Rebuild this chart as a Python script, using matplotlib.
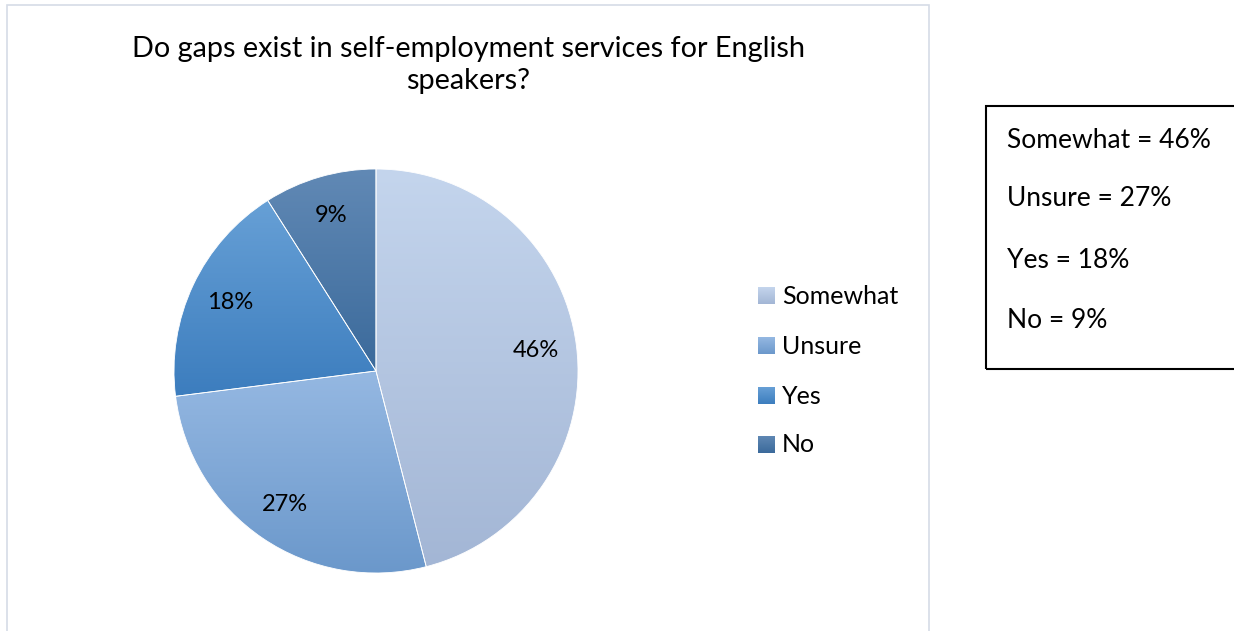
import numpy as np
import matplotlib.pyplot as plt
from matplotlib.patches import Rectangle
from matplotlib.colors import LinearSegmentedColormap

# Survey answers
labels = ['Somewhat', 'Unsure', 'Yes', 'No']
shares = [46, 27, 18, 9]
# top / bottom colour of each slice's vertical gradient
top_colors = ['#C4D5ED', '#95B8E2', '#67A0D6', '#6189B5']
bottom_colors = ['#A3B6D5', '#6B98CB', '#3C7DBE', '#3B6A9B']

title = 'Do gaps exist in self-employment services for English\nspeakers?'

plt.rcParams['font.family'] = ['Lato', 'DejaVu Sans']

W, H = 1234, 631
fig = plt.figure(figsize=(W / 100, H / 100), dpi=100)

# chart area frame (bottom edge runs off the image)
fig.patches.append(Rectangle((7 / W, -0.05), 922 / W, 1.05 - 5 / H,
                             transform=fig.transFigure, fill=False,
                             edgecolor='#D6DCE6', linewidth=1.2))

fig.text(468 / W, 1 - 65 / H, title, ha='center', va='center',
         fontsize=20.8, linespacing=1.3)

# pie axes: centre (376, 371), radius 202 px
cx, cy, r = 376, 371, 202
ax = fig.add_axes([(cx - r) / W, (H - cy - r) / H, 2 * r / W, 2 * r / H])
wedges, texts, autotexts = ax.pie(shares, startangle=90, counterclock=False,
                                  autopct='%.0f%%', pctdistance=0.8,
                                  wedgeprops=dict(linewidth=0.6, edgecolor='white'),
                                  textprops=dict(fontsize=17, color='black'))
ax.set_xlim(-1, 1)
ax.set_ylim(-1, 1)
ax.set_aspect('equal')
ax.axis('off')

grad = np.linspace(0, 1, 256).reshape(-1, 1)
for w, c0, c1 in zip(wedges, top_colors, bottom_colors):
    w.set_facecolor('none')
    bb = w.get_path().get_extents(w.get_patch_transform())
    cmap = LinearSegmentedColormap.from_list('g', [c0, c1])
    im = ax.imshow(grad, cmap=cmap, aspect='auto', origin='upper',
                   extent=[bb.x0, bb.x1, bb.y0, bb.y1], zorder=0.5)
    im.set_clip_path(w)
ax.set_xlim(-1, 1)
ax.set_ylim(-1, 1)

# legend
leg_y = [296, 346, 396, 445]
for lab, c0, c1, y in zip(labels, top_colors, bottom_colors, leg_y):
    lax = fig.add_axes([758 / W, 1 - (y + 8) / H, 17 / W, 17 / H])
    lax.imshow(grad, cmap=LinearSegmentedColormap.from_list('g', [c0, c1]),
               aspect='auto')
    lax.axis('off')
    fig.text(782 / W, 1 - y / H, lab, ha='left', va='center', fontsize=18)

# summary box on the right
fig.patches.append(Rectangle((986 / W, 1 - 369 / H), 300 / W, 263 / H,
                             transform=fig.transFigure, fill=False,
                             edgecolor='black', linewidth=1.5))
box_y = [140, 199, 260, 320]
for lab, v, y in zip(labels, shares, box_y):
    fig.text(1007 / W, 1 - y / H, f'{lab} = {v}%', ha='left', va='center',
             fontsize=19)

fig.savefig('out.png', dpi=100)
